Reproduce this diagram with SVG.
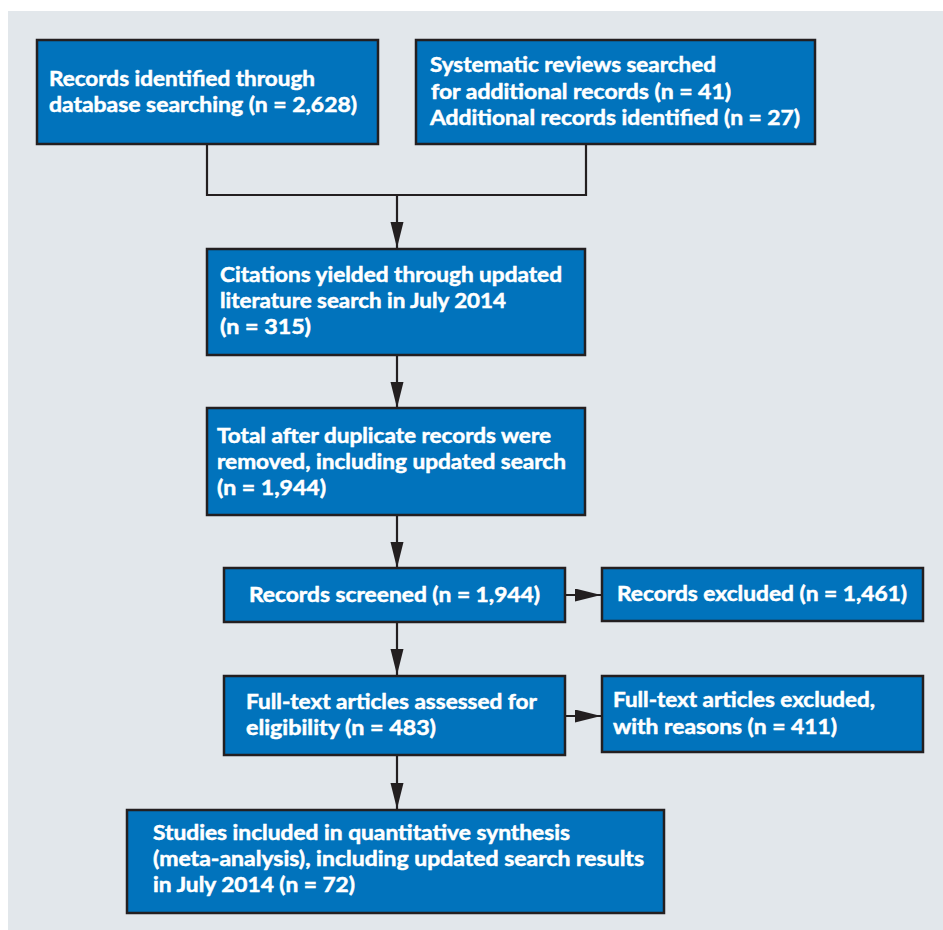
<svg xmlns="http://www.w3.org/2000/svg" width="943" height="930" viewBox="0 0 943 930">
<style>
.box{fill:#0173bc;stroke:#231f20;stroke-width:2.5}
.t{font-family:Lato,"Open Sans","Liberation Sans",sans-serif;font-weight:700;font-size:20.5px;fill:#ffffff;stroke:#ffffff;stroke-width:0.5}
.c{fill:none;stroke:#231f20;stroke-width:2.2}
</style>
<defs>
<marker id="ah" markerUnits="userSpaceOnUse" markerWidth="27" markerHeight="14" refX="26" refY="6.5" orient="auto">
<path d="M0,0 L26,6.5 L0,13 z" fill="#231f20"/>
</marker>
</defs>
<rect x="0" y="0" width="943" height="930" fill="#ffffff"/>
<rect x="8" y="11" width="935" height="919" fill="#e2e7eb"/>
<g id="connectors">
<path class="c" d="M207,144 V195 H586 V144"/>
<path class="c" d="M397,195 V248" marker-end="url(#ah)"/>
<path class="c" d="M397,355 V408" marker-end="url(#ah)"/>
<path class="c" d="M397,515 V568" marker-end="url(#ah)"/>
<path class="c" d="M397,622 V675" marker-end="url(#ah)"/>
<path class="c" d="M397,755 V809" marker-end="url(#ah)"/>
<path class="c" d="M565,595 H601" marker-end="url(#ah)"/>
<path class="c" d="M565,716 H601" marker-end="url(#ah)"/>
</g>
<g id="n1">
<rect class="box" x="37" y="40" width="341" height="104"/>
<text class="t" x="49" y="86" textLength="266" lengthAdjust="spacingAndGlyphs">Records identified through</text>
<text class="t" x="49" y="112" textLength="308" lengthAdjust="spacingAndGlyphs">database searching (n = 2,628)</text>
</g>
<g id="n2">
<rect class="box" x="416" y="40" width="399" height="104"/>
<text class="t" x="430" y="72" textLength="286" lengthAdjust="spacingAndGlyphs">Systematic reviews searched</text>
<text class="t" x="431" y="99" textLength="300" lengthAdjust="spacingAndGlyphs">for additional records (n = 41)</text>
<text class="t" x="430" y="125" textLength="370" lengthAdjust="spacingAndGlyphs">Additional records identified (n = 27)</text>
</g>
<g id="n3">
<rect class="box" x="207" y="249" width="378" height="106"/>
<text class="t" x="220" y="282" textLength="342" lengthAdjust="spacingAndGlyphs">Citations yielded through updated</text>
<text class="t" x="220" y="308" textLength="286" lengthAdjust="spacingAndGlyphs">literature search in July 2014</text>
<text class="t" x="220" y="334" textLength="91" lengthAdjust="spacingAndGlyphs">(n = 315)</text>
</g>
<g id="n4">
<rect class="box" x="207" y="408" width="378" height="107"/>
<text class="t" x="217" y="443" textLength="334" lengthAdjust="spacingAndGlyphs">Total after duplicate records were</text>
<text class="t" x="217" y="469" textLength="349" lengthAdjust="spacingAndGlyphs">removed, including updated search</text>
<text class="t" x="217" y="495" textLength="109" lengthAdjust="spacingAndGlyphs">(n = 1,944)</text>
</g>
<g id="n5">
<rect class="box" x="224" y="568" width="341" height="54"/>
<text class="t" x="249" y="602" textLength="291" lengthAdjust="spacingAndGlyphs">Records screened (n = 1,944)</text>
</g>
<g id="n6">
<rect class="box" x="602" y="568" width="321" height="53"/>
<text class="t" x="617" y="601" textLength="290" lengthAdjust="spacingAndGlyphs">Records excluded (n = 1,461)</text>
</g>
<g id="n7">
<rect class="box" x="224" y="676" width="341" height="79"/>
<text class="t" x="246" y="709" textLength="291" lengthAdjust="spacingAndGlyphs">Full-text articles assessed for</text>
<text class="t" x="246" y="735" textLength="190" lengthAdjust="spacingAndGlyphs">eligibility (n = 483)</text>
</g>
<g id="n8">
<rect class="box" x="602" y="676" width="321" height="76"/>
<text class="t" x="613" y="707" textLength="262" lengthAdjust="spacingAndGlyphs">Full-text articles excluded,</text>
<text class="t" x="613" y="734" textLength="224" lengthAdjust="spacingAndGlyphs">with reasons (n = 411)</text>
</g>
<g id="n9">
<rect class="box" x="127" y="810" width="537" height="103"/>
<text class="t" x="153" y="840" textLength="417" lengthAdjust="spacingAndGlyphs">Studies included in quantitative synthesis</text>
<text class="t" x="153" y="866" textLength="491" lengthAdjust="spacingAndGlyphs">(meta-analysis), including updated search results</text>
<text class="t" x="153" y="892" textLength="202" lengthAdjust="spacingAndGlyphs">in July 2014 (n = 72)</text>
</g>
</svg>
